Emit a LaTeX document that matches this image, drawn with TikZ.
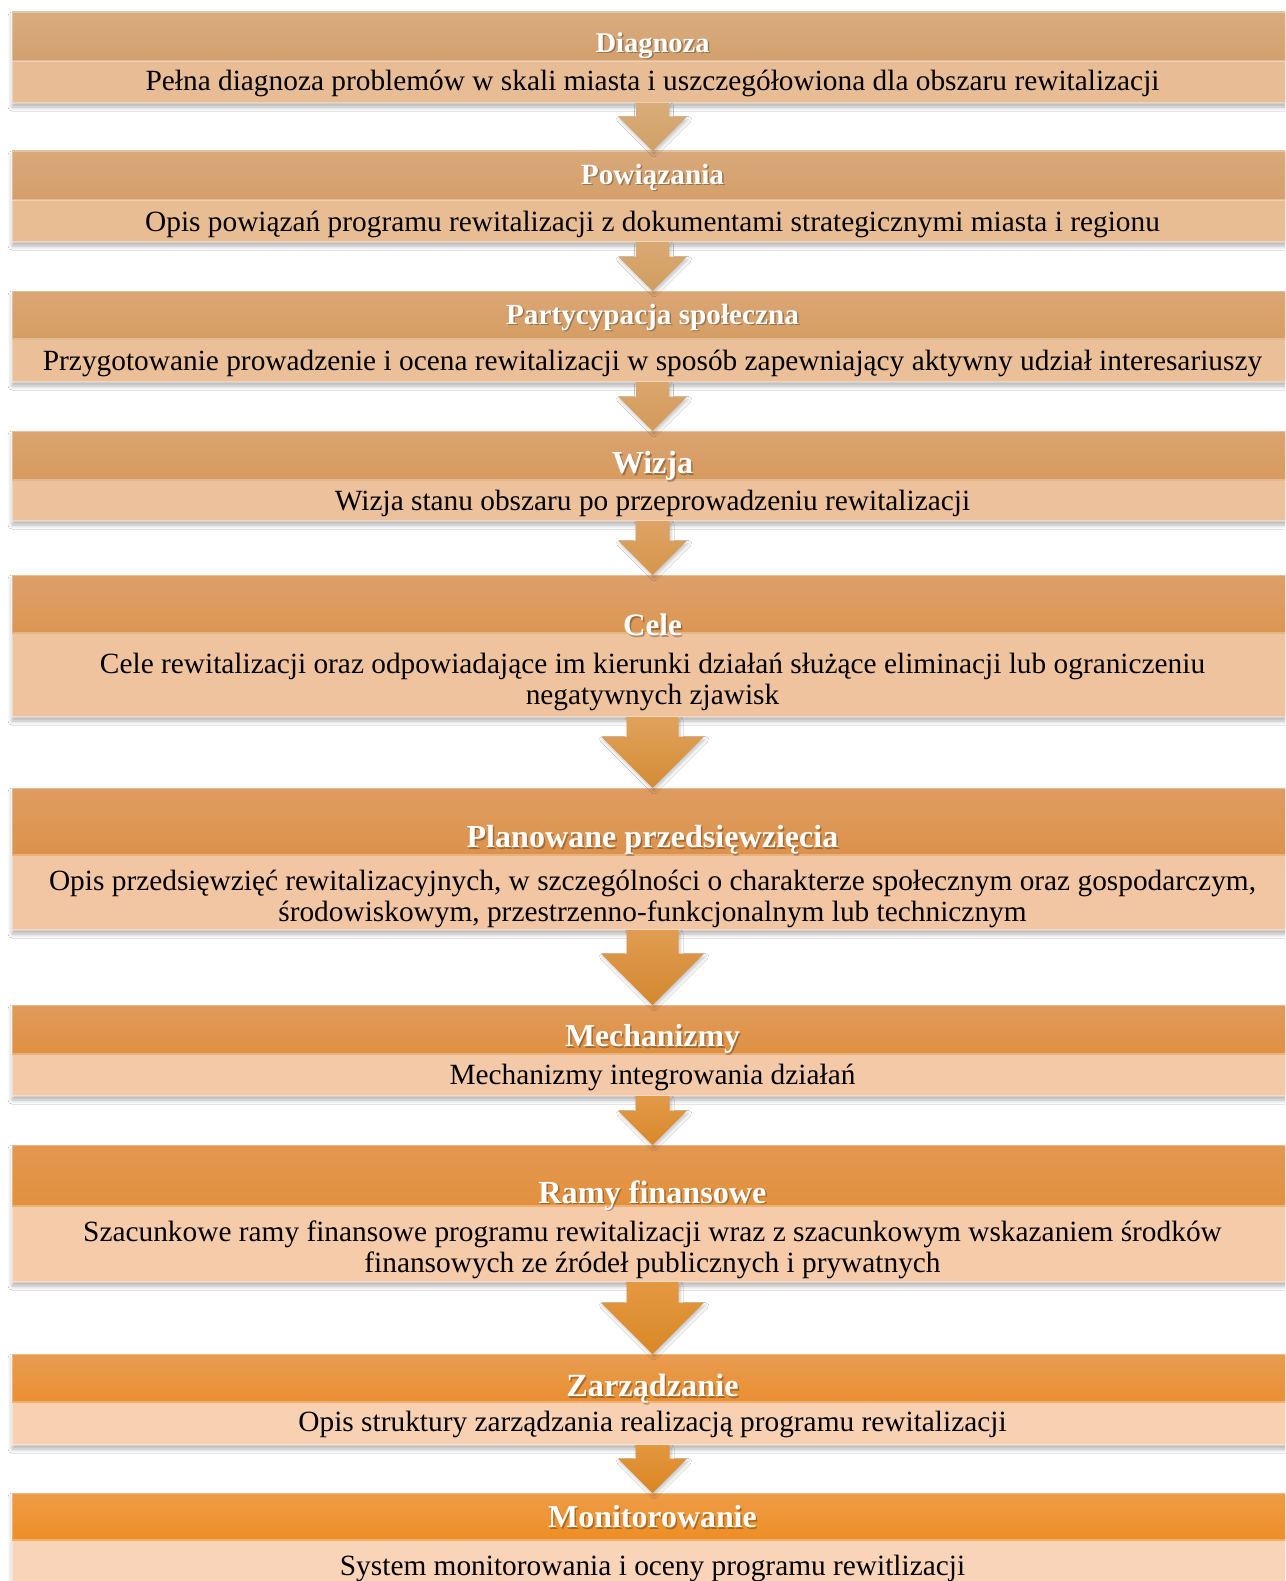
\documentclass[tikz,border=0pt]{standalone}
\usepackage{fontspec}
\setmainfont{Liberation Serif}
\usetikzlibrary{calc,shadows.blur}
% header top / bottom, sub colours
\definecolor{h1t}{HTML}{D9AC80}\definecolor{h1b}{HTML}{D3A06C}\definecolor{s1}{HTML}{E8BD95}
\definecolor{h2t}{HTML}{D9A97A}\definecolor{h2b}{HTML}{D49F69}\definecolor{s2}{HTML}{E9BD94}
\definecolor{h3t}{HTML}{DAA675}\definecolor{h3b}{HTML}{D69E64}\definecolor{s3}{HTML}{EBBF98}
\definecolor{h4t}{HTML}{DBA371}\definecolor{h4b}{HTML}{D89B5E}\definecolor{s4}{HTML}{EDC19B}
\definecolor{h5t}{HTML}{DDA06A}\definecolor{h5b}{HTML}{DC9652}\definecolor{s5}{HTML}{F0C39F}
\definecolor{h6t}{HTML}{DE9C62}\definecolor{h6b}{HTML}{DD924A}\definecolor{s6}{HTML}{F3C6A3}
\definecolor{h7t}{HTML}{E09A5A}\definecolor{h7b}{HTML}{E09142}\definecolor{s7}{HTML}{F4C9A7}
\definecolor{h8t}{HTML}{E29852}\definecolor{h8b}{HTML}{E3903C}\definecolor{s8}{HTML}{F6CBAA}
\definecolor{h9t}{HTML}{E99C50}\definecolor{h9b}{HTML}{EA8F32}\definecolor{s9}{HTML}{F8D1B2}
\definecolor{h10t}{HTML}{EE9C48}\definecolor{h10b}{HTML}{EE8E24}\definecolor{s10}{HTML}{F9D4B8}
% arrow colours
\definecolor{a1t}{HTML}{D9AC78}\definecolor{a1b}{HTML}{D0A066}
\definecolor{a2t}{HTML}{DAA972}\definecolor{a2b}{HTML}{D19D60}
\definecolor{a3t}{HTML}{DBA56C}\definecolor{a3b}{HTML}{D39A58}
\definecolor{a4t}{HTML}{DDA266}\definecolor{a4b}{HTML}{D6964A}
\definecolor{a5t}{HTML}{E0A25C}\definecolor{a5b}{HTML}{D48C34}
\definecolor{a6t}{HTML}{E09C52}\definecolor{a6b}{HTML}{D4882E}
\definecolor{a7t}{HTML}{E29A48}\definecolor{a7b}{HTML}{D8882A}
\definecolor{a8t}{HTML}{E49842}\definecolor{a8b}{HTML}{D98824}
\definecolor{a9t}{HTML}{E49640}\definecolor{a9b}{HTML}{DA8620}
\tikzset{
  boxnode/.style={rectangle, inner sep=0pt, outer sep=0pt, minimum width=1281pt,
    draw=white, draw opacity=0.35, line width=1.2pt,
    blur shadow={shadow xshift=0pt, shadow yshift=-4pt, shadow blur radius=4pt, shadow opacity=30}},
  hdrnode/.style={rectangle, inner sep=0pt, outer sep=0pt, minimum width=1281pt,
    draw=white, draw opacity=0.3, line width=1.2pt},
  titletext/.style={inner sep=0pt, text=white, align=center},
  titleshadow/.style={titletext, text=black, text opacity=0.28},
  subtext/.style={inner sep=0pt, text=black, align=center,
    font=\fontsize{29.35}{30.5}\selectfont},
}
% #1 name, #2 top, #3 boundary, #4 bottom, #5 title, #6 title cap centre,
% #7 sub text, #8 sub cap centre, #9 index (colours and title size via \tsize)
\newcommand\mystage[9]{%
  \node[boxnode, fill=s#9, anchor=north, minimum height={(#4-#2)*1pt}] (#1) at (652.5,-#2) {};
  \node[hdrnode, top color=h#9t, bottom color=h#9b, anchor=north, minimum height={(#3-#2)*1pt}] (#1h) at (652.5,-#2) {};
  \node[titleshadow, font=\fontsize{\tsize}{\tsize}\selectfont\bfseries] (#1ts) at (654,{-(#6)-5}) {\strut #5};
  \node[titletext, font=\fontsize{\tsize}{\tsize}\selectfont\bfseries] (#1t) at (652.5,{-(#6)-3.5}) {\strut #5};
  \node[subtext] (#1s) at (652.5,{-(#8)-3.1}) {#7};
}
\newcommand\myarrow[5]{%
  \path let \p1=(#1.south), \p2=(#2.north) in
    [top color=#5t, bottom color=#5b,
     blur shadow={shadow xshift=1.5pt, shadow yshift=-3pt, shadow blur radius=3pt, shadow opacity=22}]
    (\x1-#3pt,\y1) -- (\x1+#3pt,\y1) -- (\x1+#3pt,\y2+#4pt) -- (\x1+#4pt,\y2+#4pt)
    -- (\x2,\y2) -- (\x1-#4pt,\y2+#4pt) -- (\x1-#3pt,\y2+#4pt) -- cycle;
}
\begin{document}
\begin{tikzpicture}[x=1pt,y=1pt]
\useasboundingbox (0,0) rectangle (1285,-1581);
\fill[white] (0,0) rectangle (1285,-1581);
\clip (0,0) rectangle (1285,-1581);
\def\tsize{28.5}
\mystage{b1}{12}{61}{103}{Diagnoza}{43}{\strut Pełna diagnoza problemów w skali miasta i uszczegółowiona dla obszaru rewitalizacji}{81}{1}
\def\tsize{29.3}
\mystage{b2}{151}{200}{242}{Powiązania}{175}{\strut Opis powiązań programu rewitalizacji z dokumentami strategicznymi miasta i regionu}{222}{2}
\def\tsize{29.2}
\mystage{b3}{291}{339}{382}{Partycypacja społeczna}{315}{\strut Przygotowanie prowadzenie i ocena rewitalizacji w sposób zapewniający aktywny udział interesariuszy}{361}{3}
\def\tsize{32.1}
\mystage{b4}{431}{480}{521}{Wizja}{464}{\strut Wizja stanu obszaru po przeprowadzeniu rewitalizacji}{501}{4}
\def\tsize{31.2}
\mystage{b5}{575}{633}{717}{Cele}{626}{\strut Cele rewitalizacji oraz odpowiadające im kierunki działań służące eliminacji lub ograniczeniu\\\strut negatywnych zjawisk}{680}{5}
\def\tsize{32.1}
\mystage{b6}{788}{855}{930}{Planowane przedsięwzięcia}{838}{\strut Opis przedsięwzięć rewitalizacyjnych, w szczególności o charakterze społecznym oraz gospodarczym,\\\strut środowiskowym, przestrzenno-funkcjonalnym lub technicznym}{897}{6}
\def\tsize{31.8}
\mystage{b7}{1005}{1054}{1096}{Mechanizmy}{1037}{\strut Mechanizmy integrowania działań}{1075}{7}
\def\tsize{32.2}
\mystage{b8}{1145}{1206}{1282}{Ramy finansowe}{1193}{\strut Szacunkowe ramy finansowe programu rewitalizacji wraz z szacunkowym wskazaniem środków\\\strut finansowych ze źródeł publicznych i prywatnych}{1248}{8}
\def\tsize{32.3}
\mystage{b9}{1354}{1402}{1445}{Zarządzanie}{1387}{\strut Opis struktury zarządzania realizacją programu rewitalizacji}{1422}{9}
\def\tsize{31.9}
\mystage{b10}{1493}{1540}{1592}{Monitorowanie}{1518}{\strut System monitorowania i oceny programu rewitlizacji}{1566}{10}
\myarrow{b1}{b2h}{16.5}{34.5}{a1}
\myarrow{b2}{b3h}{16.5}{34.5}{a2}
\myarrow{b3}{b4h}{16.5}{34.5}{a3}
\myarrow{b4}{b5h}{17}{34.5}{a4}
\myarrow{b5}{b6h}{26}{51.5}{a5}
\myarrow{b6}{b7h}{26}{51.5}{a6}
\myarrow{b7}{b8h}{17}{34.5}{a7}
\myarrow{b8}{b9h}{26}{51.5}{a8}
\myarrow{b9}{b10h}{17}{34.5}{a9}
\end{tikzpicture}
\end{document}
